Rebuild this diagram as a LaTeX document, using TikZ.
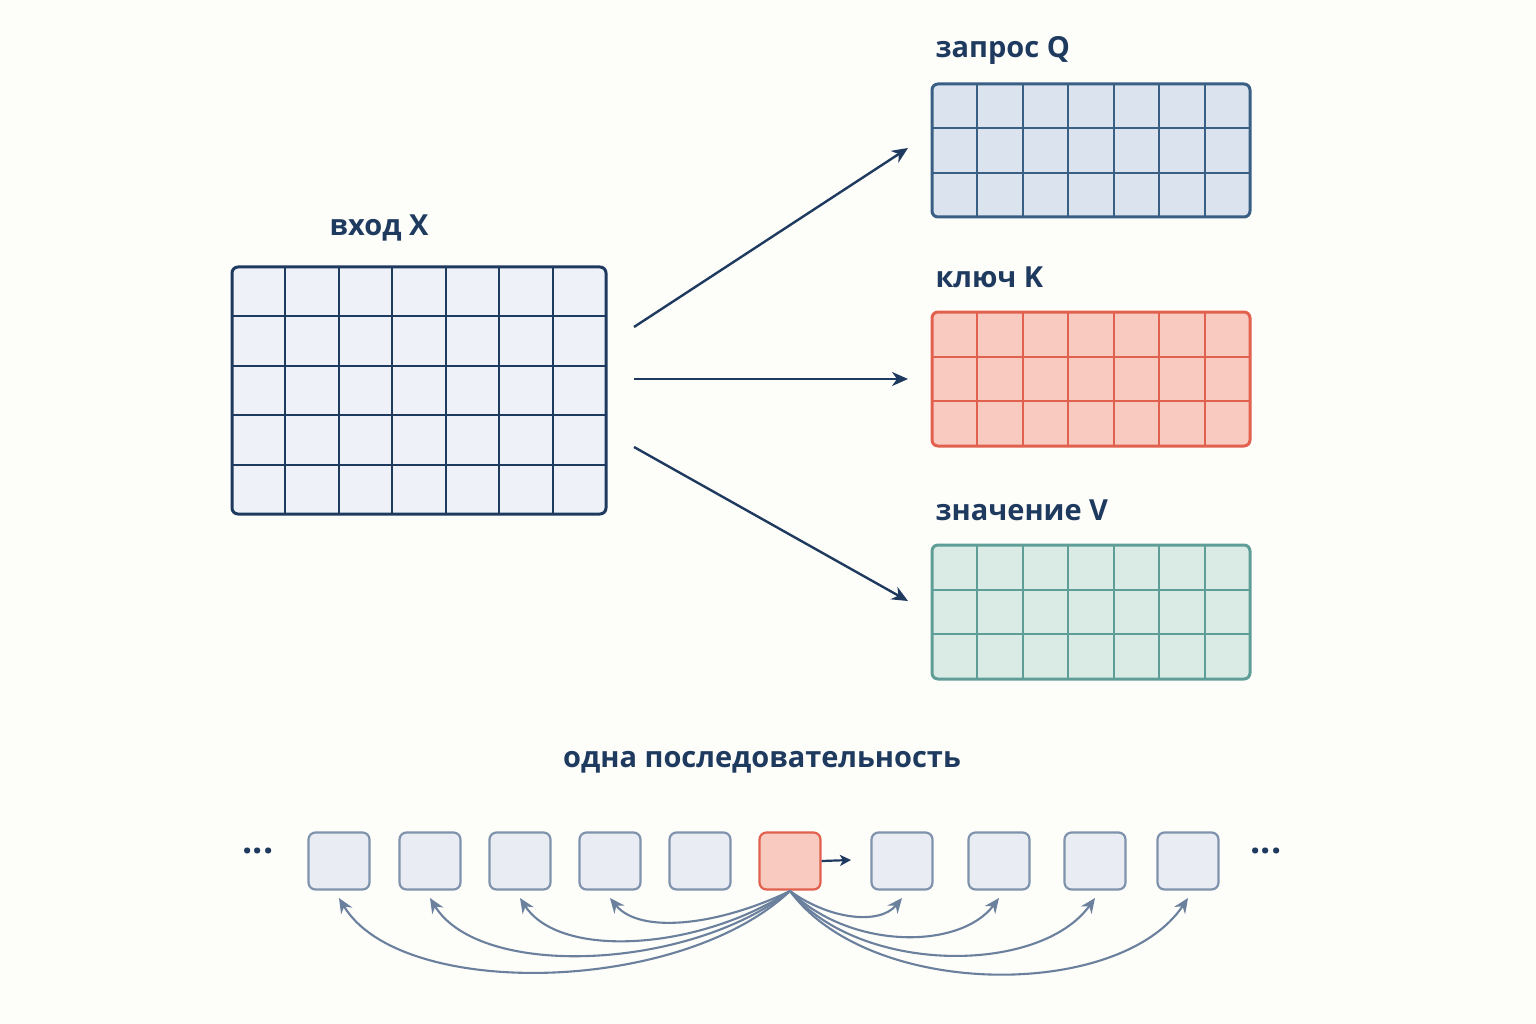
\documentclass[tikz,border=0pt]{standalone}
\usepackage{fontspec}
\setmainfont{Open Sans}
\usetikzlibrary{arrows.meta}
\definecolor{navy}{HTML}{1F3A5F}
\definecolor{xfill}{HTML}{EEF2F8}
\definecolor{qfill}{HTML}{DAE3EE}
\definecolor{qline}{HTML}{3A5F85}
\definecolor{kfill}{HTML}{F9CABF}
\definecolor{kline}{HTML}{E2604E}
\definecolor{vfill}{HTML}{DAEAE5}
\definecolor{vline}{HTML}{5E9E96}
\definecolor{bfill}{HTML}{E9EDF3}
\definecolor{bline}{HTML}{7F93AD}
\definecolor{arc}{HTML}{6A809D}
\definecolor{bg}{HTML}{FDFDFA}
\begin{document}
\begin{tikzpicture}[x=1pt,y=-1pt,
  lab/.style={font=\bfseries\fontsize{29}{32}\selectfont, text=navy},
  arr/.style={-{Stealth[length=16pt,width=14pt,inset=5pt]}, line width=2.4pt, draw=navy},
  tok/.style={draw=bline, fill=bfill, line width=2.2pt, rounded corners=7pt, minimum width=61pt, minimum height=57pt, inner sep=0pt},
  arcs/.style={-{Stealth[length=15pt,width=13pt,inset=5pt]}, line width=2.1pt, draw=arc}]
\fill[bg] (0,0) rectangle (1536,1024);
\newcommand{\mygrid}[8]{% x1 y1 x2 y2 cols rows fill line
  \fill[#7,rounded corners=6pt] (#1,#2) rectangle (#3,#4);
  \foreach \i in {1,...,\numexpr#5-1\relax}
    \draw[#8,line width=2pt] ({#1+(#3-#1)*\i/#5},#2) -- ({#1+(#3-#1)*\i/#5},#4);
  \foreach \j in {1,...,\numexpr#6-1\relax}
    \draw[#8,line width=2pt] (#1,{#2+(#4-#2)*\j/#6}) -- (#3,{#2+(#4-#2)*\j/#6});
  \draw[#8,line width=3pt,rounded corners=6pt] (#1,#2) rectangle (#3,#4);}
\mygrid{232}{267}{606}{514}{7}{5}{xfill}{navy}
\mygrid{932}{84}{1250}{217}{7}{3}{qfill}{qline}
\mygrid{932}{312}{1250}{446}{7}{3}{kfill}{kline}
\mygrid{932}{545}{1250}{679}{7}{3}{vfill}{vline}
\node[lab] (lx) at (379,228) {вход X};
\node[lab,anchor=west] (lq) at (932,50) {запрос Q};
\node[lab,anchor=west] (lk) at (932,277) {ключ K};
\node[lab,anchor=west] (lv) at (932,510) {значение V};
\node[lab] (ls) at (762,762) {одна последовательность};
\coordinate (a1) at (634,327); \coordinate (b1) at (908,148);
\coordinate (a2) at (634,379); \coordinate (b2) at (908,379);
\coordinate (a3) at (634,447); \coordinate (b3) at (908,601);
\draw[arr] (a1) -- (b1);
\draw[arr] (a2) -- (b2);
\draw[arr] (a3) -- (b3);
\foreach \n/\x in {1/339,2/430,3/520,4/610,5/700,7/902,8/999,9/1095,10/1188}
  \node[tok] (t\n) at (\x,861) {};
\node[tok,draw=kline,fill=kfill] (t6) at (790,861) {};
\node[text=navy,font=\bfseries\fontsize{36}{36}\selectfont] (dl) at (258,851) {...};
\node[text=navy,font=\bfseries\fontsize{36}{36}\selectfont] (dr) at (1266,851) {...};
\coordinate (sm) at (851,860);
\draw[-{Stealth[length=11pt,width=11pt,inset=3pt]},line width=2.2pt,navy] (t6.east) -- (sm);
\coordinate (o) at (790,891);
\draw[arcs] (o) .. controls (720,925) and (640,935) .. (610,898);
\draw[arcs] (o) .. controls (700,950) and (560,960) .. (520,898);
\draw[arcs] (o) .. controls (690,970) and (480,980) .. (430,898);
\draw[arcs] (o) .. controls (680,995) and (400,1000) .. (339,898);
\draw[arcs] (o) .. controls (830,920) and (880,925) .. (902,898);
\draw[arcs] (o) .. controls (850,950) and (960,950) .. (999,898);
\draw[arcs] (o) .. controls (860,975) and (1040,975) .. (1095,898);
\draw[arcs] (o) .. controls (870,1000) and (1120,1000) .. (1188,898);
\end{tikzpicture}
\end{document}
